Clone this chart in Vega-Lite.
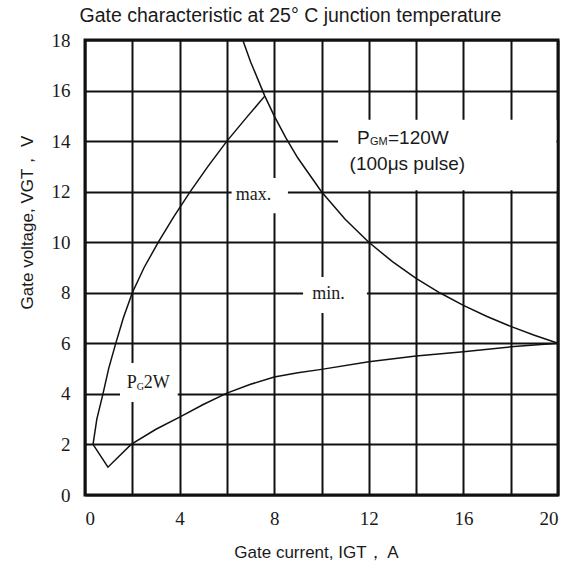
{
  "$schema": "https://vega.github.io/schema/vega-lite/v6.json",
  "width": 473,
  "height": 455,
  "autosize": {"type": "none"},
  "padding": {"left": 85, "top": 40, "right": 21, "bottom": 68},
  "background": "white",
  "config": {
    "view": {"stroke": "#111", "strokeWidth": 3},
    "axis": {
      "grid": true, "gridColor": "#111", "gridWidth": 2, "gridOpacity": 1,
      "ticks": false, "domain": false,
      "labelFont": "Liberation Serif", "labelFontSize": 19, "labelColor": "#1a1a1a",
      "titleFont": "Liberation Sans", "titleFontSize": 17, "titleFontWeight": "normal", "titleColor": "#1a1a1a"
    }
  },
  "title": {
    "text": "Gate characteristic at 25° C junction temperature",
    "font": "Liberation Sans", "fontSize": 19.5, "fontWeight": "normal", "color": "#1a1a1a",
    "anchor": "middle", "frame": "group", "dx": -31, "offset": 5
  },
  "datasets": {
    "curves": [
      {"curve": "max", "I": 0.34, "V": 2},
      {"curve": "max", "I": 0.5, "V": 3},
      {"curve": "max", "I": 0.76, "V": 4},
      {"curve": "max", "I": 1.0, "V": 5},
      {"curve": "max", "I": 1.3, "V": 6},
      {"curve": "max", "I": 1.62, "V": 7},
      {"curve": "max", "I": 2.0, "V": 8},
      {"curve": "max", "I": 2.5, "V": 9},
      {"curve": "max", "I": 3.1, "V": 10},
      {"curve": "max", "I": 3.75, "V": 11},
      {"curve": "max", "I": 4.45, "V": 12},
      {"curve": "max", "I": 5.2, "V": 13},
      {"curve": "max", "I": 6.0, "V": 14},
      {"curve": "max", "I": 6.8, "V": 14.9},
      {"curve": "max", "I": 7.6, "V": 15.78},
      {"curve": "pgm", "I": 6.67, "V": 18},
      {"curve": "pgm", "I": 7.0, "V": 17.14},
      {"curve": "pgm", "I": 7.6, "V": 15.79},
      {"curve": "pgm", "I": 8.0, "V": 15.0},
      {"curve": "pgm", "I": 8.5, "V": 14.12},
      {"curve": "pgm", "I": 9.0, "V": 13.33},
      {"curve": "pgm", "I": 10.0, "V": 12.0},
      {"curve": "pgm", "I": 11.0, "V": 10.91},
      {"curve": "pgm", "I": 12.0, "V": 10.0},
      {"curve": "pgm", "I": 13.0, "V": 9.23},
      {"curve": "pgm", "I": 14.0, "V": 8.57},
      {"curve": "pgm", "I": 15.0, "V": 8.0},
      {"curve": "pgm", "I": 16.0, "V": 7.5},
      {"curve": "pgm", "I": 17.0, "V": 7.06},
      {"curve": "pgm", "I": 18.0, "V": 6.67},
      {"curve": "pgm", "I": 19.0, "V": 6.32},
      {"curve": "pgm", "I": 20.0, "V": 6.0},
      {"curve": "min", "I": 0.34, "V": 2},
      {"curve": "min", "I": 0.97, "V": 1.1},
      {"curve": "min", "I": 1.95, "V": 2},
      {"curve": "min", "I": 3.0, "V": 2.6},
      {"curve": "min", "I": 4.0, "V": 3.08},
      {"curve": "min", "I": 5.0, "V": 3.58},
      {"curve": "min", "I": 6.0, "V": 4.03},
      {"curve": "min", "I": 7.0, "V": 4.38},
      {"curve": "min", "I": 8.0, "V": 4.67},
      {"curve": "min", "I": 9.0, "V": 4.84},
      {"curve": "min", "I": 10.0, "V": 4.97},
      {"curve": "min", "I": 12.0, "V": 5.27},
      {"curve": "min", "I": 14.0, "V": 5.5},
      {"curve": "min", "I": 16.0, "V": 5.67},
      {"curve": "min", "I": 18.0, "V": 5.86},
      {"curve": "min", "I": 20.0, "V": 6.0}
    ],
    "boxes": [
      {"I": 1.48, "I2": 3.92, "V": 3.68, "V2": 5.22},
      {"I": 6.2, "I2": 8.58, "V": 11.15, "V2": 12.54},
      {"I": 9.22, "I2": 11.92, "V": 7.2, "V2": 8.62},
      {"I": 10.7, "I2": 19.93, "V": 12.06, "V2": 14.85}
    ],
    "serifLabels": [
      {"I": 7.12, "V": 11.87, "t": "max."},
      {"I": 10.3, "V": 7.95, "t": "min."}
    ],
    "pg": [{"I": 1.765, "V": 4.43, "a": "P", "b": "G", "c": "2W"}],
    "pgm": [{"I": 11.5, "V": 14.12, "a": "P", "b": "GM", "c": "=120W"}],
    "pulse": [{"I": 13.63, "V": 13.1, "t": "(100μs  pulse)"}]
  },
  "encoding": {
    "x": {
      "field": "I", "type": "quantitative",
      "scale": {"domain": [0, 20], "nice": false, "zero": false},
      "axis": {
        "values": [0, 2, 4, 6, 8, 10, 12, 14, 16, 18, 20],
        "labelExpr": "datum.value % 4 === 0 ? datum.label : ''",
        "labelPadding": 14,
        "title": "Gate current, IGT， A",
        "titleX": 231, "titleY": 57, "titleBaseline": "middle"
      }
    },
    "y": {
      "field": "V", "type": "quantitative",
      "scale": {"domain": [0, 18], "nice": false, "zero": false},
      "axis": {
        "values": [0, 2, 4, 6, 8, 10, 12, 14, 16, 18],
        "labelPadding": 15,
        "title": "Gate voltage, VGT， V",
        "titleX": -58, "titleY": 182, "titleBaseline": "middle"
      }
    }
  },
  "layer": [
    {
      "data": {"name": "boxes"},
      "mark": {"type": "rect", "fill": "white", "stroke": null},
      "encoding": {"x2": {"field": "I2"}, "y2": {"field": "V2"}}
    },
    {
      "data": {"name": "curves"},
      "mark": {"type": "line", "color": "#111", "strokeWidth": 1.5},
      "encoding": {"detail": {"field": "curve"}}
    },
    {
      "data": {"name": "serifLabels"},
      "mark": {"type": "text", "font": "Liberation Serif", "fontSize": 18, "color": "#1a1a1a", "align": "center", "baseline": "middle"},
      "encoding": {"text": {"field": "t"}}
    },
    {
      "data": {"name": "pg"},
      "mark": {"type": "text", "font": "Liberation Serif", "fontSize": 18, "color": "#1a1a1a", "align": "left", "baseline": "middle"},
      "encoding": {"text": {"field": "a"}}
    },
    {
      "data": {"name": "pg"},
      "mark": {"type": "text", "font": "Liberation Serif", "fontSize": 10, "color": "#1a1a1a", "align": "left", "baseline": "middle", "dx": 10, "dy": 4},
      "encoding": {"text": {"field": "b"}}
    },
    {
      "data": {"name": "pg"},
      "mark": {"type": "text", "font": "Liberation Serif", "fontSize": 18, "color": "#1a1a1a", "align": "left", "baseline": "middle", "dx": 17},
      "encoding": {"text": {"field": "c"}}
    },
    {
      "data": {"name": "pgm"},
      "mark": {"type": "text", "font": "Liberation Sans", "fontSize": 19, "color": "#1a1a1a", "align": "left", "baseline": "middle"},
      "encoding": {"text": {"field": "a"}}
    },
    {
      "data": {"name": "pgm"},
      "mark": {"type": "text", "font": "Liberation Sans", "fontSize": 11, "color": "#1a1a1a", "align": "left", "baseline": "middle", "dx": 13, "dy": 4},
      "encoding": {"text": {"field": "b"}}
    },
    {
      "data": {"name": "pgm"},
      "mark": {"type": "text", "font": "Liberation Sans", "fontSize": 19, "color": "#1a1a1a", "align": "left", "baseline": "middle", "dx": 31},
      "encoding": {"text": {"field": "c"}}
    },
    {
      "data": {"name": "pulse"},
      "mark": {"type": "text", "font": "Liberation Sans", "fontSize": 19, "color": "#1a1a1a", "align": "center", "baseline": "middle"},
      "encoding": {"text": {"field": "t"}}
    }
  ]
}
